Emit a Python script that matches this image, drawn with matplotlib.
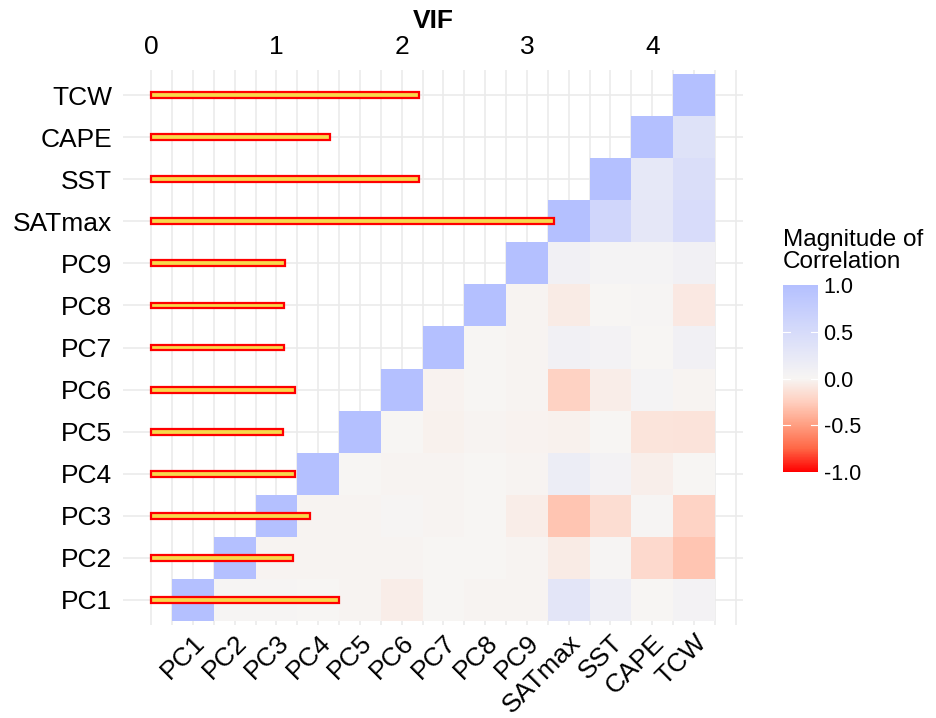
import numpy as np
import matplotlib
matplotlib.use("Agg")
import matplotlib.pyplot as plt
from matplotlib.colors import LinearSegmentedColormap, Normalize
from matplotlib.cm import ScalarMappable

plt.rcParams['font.family'] = ['Liberation Sans', 'DejaVu Sans']

# variables (bottom to top / left to right)
variables = ['PC1', 'PC2', 'PC3', 'PC4', 'PC5', 'PC6', 'PC7', 'PC8', 'PC9',
             'SATmax', 'SST', 'CAPE', 'TCW']

# variance inflation factors
vif = [1.50, 1.13, 1.27, 1.15, 1.05, 1.15, 1.06, 1.06, 1.07, 3.22, 2.14, 1.43, 2.14]

# correlations, upper triangle: row i holds columns i..end
corr_PC1 = [1, 0.01, 0.01, 0.0, -0.01, -0.05, 0.0, -0.01, -0.01, 0.31, 0.13, 0.0, 0.06]
corr_PC2 = [1, -0.01, -0.01, -0.01, -0.01, 0.0, 0.0, -0.01, -0.07, 0.01, -0.18, -0.30]
corr_PC3 = [1, -0.01, -0.01, 0.02, -0.01, 0.0, -0.05, -0.30, -0.16, 0.01, -0.22]
corr_PC4 = [1, 0.0, -0.01, -0.01, 0.0, -0.01, 0.16, 0.07, -0.04, 0.0]
corr_PC5 = [1, 0.0, -0.03, -0.01, -0.02, -0.03, 0.0, -0.11, -0.12]
corr_PC6 = [1, -0.02, 0.0, -0.01, -0.23, -0.05, 0.04, -0.01]
corr_PC7 = [1, 0.0, -0.01, 0.10, 0.07, 0.0, 0.10]
corr_PC8 = [1, -0.01, -0.07, 0.0, 0.01, -0.08]
corr_PC9 = [1, 0.10, 0.04, 0.04, 0.09]
corr_SATmax = [1, 0.58, 0.28, 0.47]
corr_SST = [1, 0.25, 0.43]
corr_CAPE = [1, 0.37]
corr_TCW = [1]

rows = [corr_PC1, corr_PC2, corr_PC3, corr_PC4, corr_PC5, corr_PC6, corr_PC7,
        corr_PC8, corr_PC9, corr_SATmax, corr_SST, corr_CAPE, corr_TCW]

n = len(variables)
mat = np.full((n, n), np.nan)
for i, r in enumerate(rows):
    mat[i, i:] = r
mat = np.ma.masked_invalid(mat)

nodes = [(0.0, (255, 0, 0)), (0.125, (255, 103, 70)), (0.25, (255, 158, 129)),
         (0.375, (255, 207, 191)), (0.5, (247, 245, 243)), (0.75, (214, 219, 250)),
         (1.0, (180, 192, 255))]
cmap = LinearSegmentedColormap.from_list(
    'corr', [(p, tuple(c / 255 for c in col)) for p, col in nodes])
norm = Normalize(-1, 1)

fig = plt.figure(figsize=(9.36, 7.18), dpi=100)
ax = fig.add_axes([0.1314, 0.1295, 0.6624, 0.7730])

pos = np.arange(1, n + 1)
edges = np.arange(0.5, n + 1.0, 1.0)
ax.pcolormesh(edges, edges, mat, cmap=cmap, norm=norm, antialiased=False,
              linewidth=0, zorder=2)

# VIF bars (3 tile units per VIF unit)
ax.barh(pos, np.array(vif) * 3, left=0, height=0.14, color='#F7D94C',
        edgecolor='red', linewidth=1.6, zorder=3)

ax.set_xlim(-0.675, 14.175)
ax.set_ylim(0.4, 13.6)

ax.set_xticks(pos)
ax.set_xticklabels(variables, rotation=45, ha='right', rotation_mode='anchor')
ax.set_xticks(np.arange(0, 14.01, 0.5), minor=True)
ax.set_yticks(pos)
ax.set_yticklabels(variables)

ax.set_axisbelow(True)
ax.grid(which='both', axis='x', color='#EBEBEB', linewidth=1.2)
ax.grid(which='major', axis='y', color='#EBEBEB', linewidth=1.2)
for s in ax.spines.values():
    s.set_visible(False)
ax.tick_params(axis='both', which='both', length=0, labelsize=19, colors='black')
ax.tick_params(axis='x', pad=4)
ax.tick_params(axis='y', pad=8)

secax = ax.secondary_xaxis('top', functions=(lambda x: x / 3, lambda v: v * 3))
secax.set_xticks([0, 1, 2, 3, 4])
secax.tick_params(length=0, labelsize=19, pad=8)
secax.spines['top'].set_visible(False)
secax.set_xlabel('VIF', fontsize=19, fontweight='bold', labelpad=5)

# colour legend
cax = fig.add_axes([0.8365, 0.3426, 0.0374, 0.2604])
cb = fig.colorbar(ScalarMappable(norm=norm, cmap=cmap), cax=cax)
cb.outline.set_visible(False)
cb.set_ticks([-1, -0.5, 0, 0.5, 1])
cb.set_ticklabels(['-1.0', '-0.5', '0.0', '0.5', '1.0'])
cax.tick_params(length=0, labelsize=15.5, pad=4)
for t in [-0.5, 0, 0.5]:
    cax.plot([0, 0.2], [t, t], color='white', lw=0.8)
    cax.plot([0.8, 1], [t, t], color='white', lw=0.8)
fig.text(0.8365, 1 - 229 / 718, 'Magnitude of\nCorrelation', ha='left', va='top',
         fontsize=17.5, linespacing=1.0)

fig.savefig('out.png', dpi=100)
